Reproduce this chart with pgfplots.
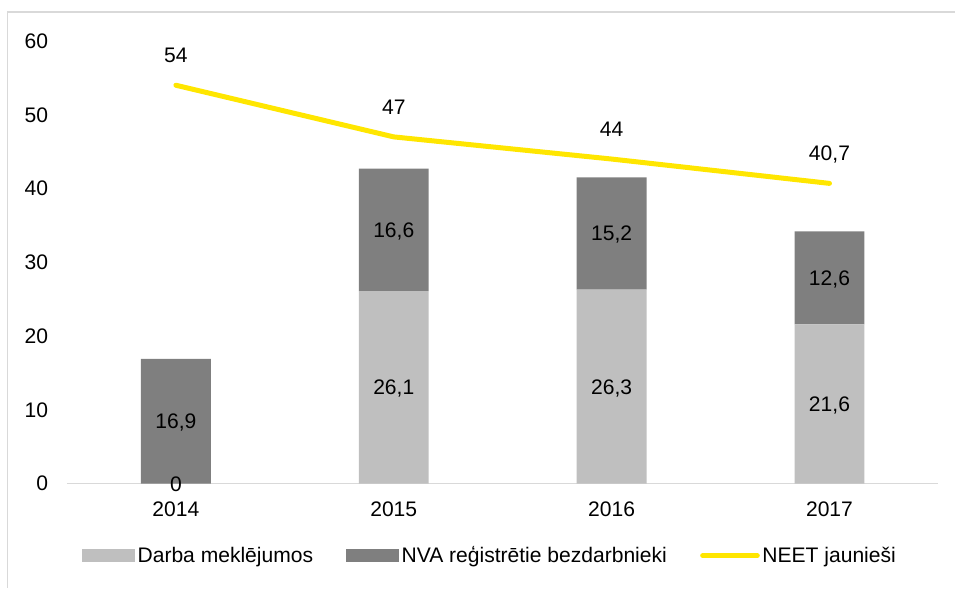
\documentclass[border=0pt]{standalone}
\usepackage{fontspec}
\setmainfont{Liberation Sans}
\usepackage{pgfplots}
\pgfplotsset{compat=1.18}

\definecolor{lightbar}{HTML}{BFBFBF}
\definecolor{darkbar}{HTML}{7F7F7F}
\definecolor{neet}{HTML}{FFE600}
\definecolor{framegray}{HTML}{D9D9D9}

\pgfplotsset{
  base/.style={
    scale only axis, width=654pt, height=332.25pt,
    at={(50.25pt,78pt)}, anchor=south west,
    xmin=-0.5, xmax=3.5, ymin=0, ymax=60,
    font=\fontsize{15.8}{18}\selectfont,
  },
}

\begin{document}
\begin{tikzpicture}
\path (0,0) rectangle (717pt,441pt);
\draw[framegray, line width=0.9pt] (5.4pt,0) -- (5.4pt,432pt) -- (717pt,432pt);

% bars
\begin{axis}[base,
  ybar stacked, bar width=52.5pt,
  axis lines*=left,
  y axis line style={draw=none},
  x axis line style={draw=framegray, line width=1.1pt, -},
  tick style={draw=none},
  xtick={0,1,2,3}, xticklabels={2014,2015,2016,2017},
  ytick={0,10,...,60},
  xticklabel style={inner sep=0pt, anchor=north, yshift=-13.5pt},
  yticklabel style={inner sep=0pt, anchor=east, xshift=-14pt},
  /pgf/number format/assume math mode=true,
]
\addplot[fill=lightbar, draw=none] coordinates {(0,0) (1,26.1) (2,26.3) (3,21.6)};
\addplot[fill=darkbar, draw=none] coordinates {(0,16.9) (1,16.6) (2,15.2) (3,12.6)};
\end{axis}

% line, labels, legend
\begin{axis}[base, axis lines=none,
  legend columns=3,
  legend style={draw=none, fill=none, at={(0.486,-0.1625)}, anchor=center,
    font=\fontsize{15.8}{18}\selectfont,
    /tikz/every even column/.append style={column sep=23pt},
    nodes={inner sep=2pt}},
]
\addlegendimage{legend image code/.code={\fill[lightbar] (0pt,-4.5pt) rectangle (39pt,4.5pt);}}
\addlegendentry{Darba meklējumos}
\addlegendimage{legend image code/.code={\fill[darkbar] (0pt,-4.5pt) rectangle (39pt,4.5pt);}}
\addlegendentry{NVA reģistrētie bezdarbnieki}
\addplot[neet, line width=3.75pt, line cap=round, line join=round, mark=none,
  legend image code/.code={\draw[neet, line width=3.75pt, line cap=round] (0pt,0pt) -- (41pt,0pt);},
  nodes near coords, point meta=explicit symbolic,
  every node near coord/.append style={black, anchor=center, text depth=0pt, yshift=22.5pt}]
  coordinates {(0,54)[54] (1,47)[47] (2,44)[44] (3,40.7)[{40,7}]};
\addlegendentry{NEET jaunieši}
% value labels inside the bar segments
\addplot[forget plot, draw=none, mark=none, nodes near coords, point meta=explicit symbolic,
  every node near coord/.append style={black, anchor=center, text depth=0pt}]
  coordinates {(0,0)[0] (1,13.05)[{26,1}] (2,13.15)[{26,3}] (3,10.8)[{21,6}]
               (0,8.45)[{16,9}] (1,34.4)[{16,6}] (2,33.9)[{15,2}] (3,27.9)[{12,6}]};
\end{axis}
\end{tikzpicture}
\end{document}
